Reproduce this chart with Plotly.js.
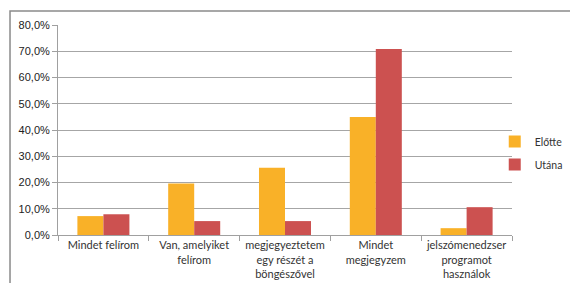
<!DOCTYPE html>
<html>
<head>
<meta charset="utf-8">
<script src="https://cdn.plot.ly/plotly-3.0.1.min.js"></script>
<style>body{margin:0;background:#fff}#chart{width:570px;height:283px}</style>
</head>
<body>
<div id="chart"></div>
<script>
const categories = ["Mindet felírom", "Van, amelyiket<br>felírom", "megjegyeztetem<br>egy részét a<br>böngészővel", "Mindet<br>megjegyzem", "jelszómenedzser<br>programot<br>használok"];
const elotte = [7.2, 19.6, 25.6, 45.0, 2.6];
const utana = [7.9, 5.3, 5.3, 70.9, 10.6];
const yTicks = [0, 10, 20, 30, 40, 50, 60, 70, 80];
const yTickText = yTicks.map(v => v.toFixed(1).replace(".", ",") + "%");

const labelFont = {family: "Lato, 'Open Sans', sans-serif", size: 11, color: "#333"};
const data = [
  {type: "bar", name: "Előtte", x: categories, y: elotte, marker: {color: "#F9B128"}, legendgroup: "a"},
  {type: "bar", name: "Utána", x: categories, y: utana, marker: {color: "#CC5150"}, legendgroup: "b"}
];
const layout = {
  width: 570, height: 283,
  margin: {l: 58, r: 58, t: 25, b: 48, autoexpand: false},
  paper_bgcolor: "#fff", plot_bgcolor: "#fff",
  barmode: "group", bargap: 0.427, bargroupgap: 0,
  showlegend: true,
  legend: {x: 0.962, xanchor: "left", y: 0.39, yanchor: "middle",
           font: {family: "Lato, 'Open Sans', sans-serif", size: 10.5, color: "#333"}, tracegroupgap: 4,
           bgcolor: "rgba(0,0,0,0)"},
  xaxis: {type: "category", tickfont: labelFont, tickangle: 0, showgrid: false, showline: true, linecolor: "#A0A0A0", linewidth: 1,
          ticks: "outside", tickson: "boundaries", ticklen: 5, tickcolor: "#A0A0A0", zeroline: false, automargin: false},
  yaxis: {range: [0, 80], tickvals: yTicks, ticktext: yTickText,
          tickfont: {family: "'Liberation Sans', Arial, sans-serif", size: 11, color: "#222"},
          showgrid: true, gridcolor: "#A6A6A6", gridwidth: 1, showline: true, linecolor: "#A0A0A0",
          ticks: "outside", ticklen: 5, tickcolor: "#A0A0A0", zeroline: false, automargin: false},
  shapes: [{type: "rect", xref: "paper", yref: "paper", x0: -0.1057, x1: 1.5, y0: -1, y1: 1.0667,
            line: {color: "#8A8A8A", width: 1.5}, fillcolor: "rgba(0,0,0,0)", layer: "below"}]
};
Plotly.newPlot("chart", data, layout, {staticPlot: true, displayModeBar: false});
</script>
</body>
</html>
